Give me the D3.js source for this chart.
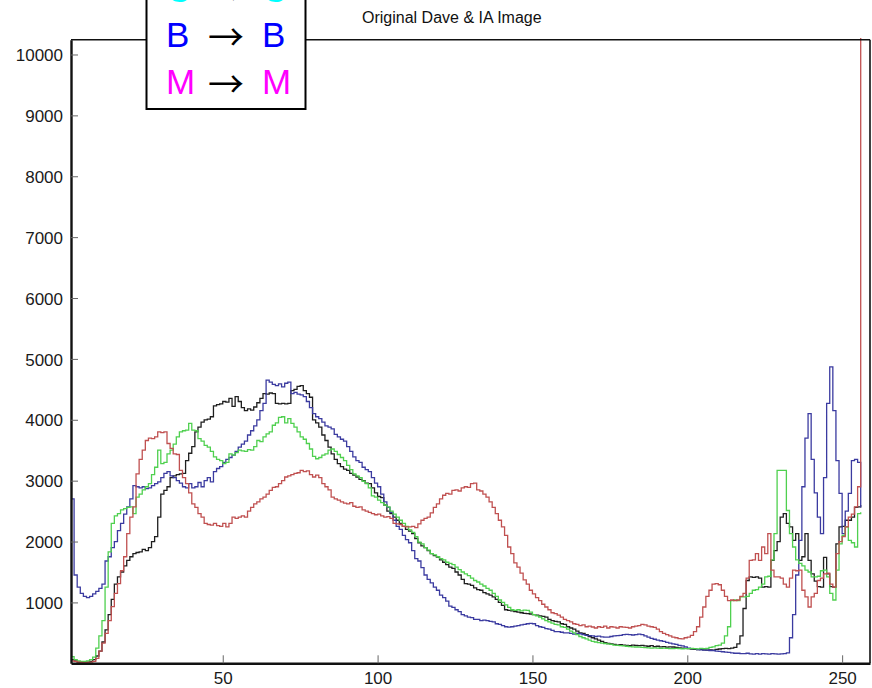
<!DOCTYPE html>
<html>
<head>
<meta charset="utf-8">
<script src="https://cdn.jsdelivr.net/npm/d3@7/dist/d3.min.js"></script>
<style>
  html, body { margin: 0; padding: 0; background: #ffffff; }
  svg { display: block; }
</style>
</head>
<body>
<svg id="chart" width="872" height="688"></svg>
<script>
// Intensity histograms (counts per grey level 1..256)
const levels = d3.range(1, 257);

const blueCounts = [
  2700,1450,1250,1150,1100,1080,1100,1140,1180,1230,
  1300,1680,1750,1900,2000,2180,2300,2450,2570,2700,
  2920,2900,2880,2900,2870,2880,2920,2950,2980,3050,
  3120,3150,3080,3050,3000,2960,2900,2880,2950,2880,
  2900,2970,2900,3000,3050,2980,3150,3200,3230,3300,
  3350,3380,3420,3480,3550,3600,3650,3750,3820,3900,
  4000,4150,4270,4650,4620,4580,4560,4590,4540,4600,
  4620,4430,4450,4420,4410,4380,4300,4200,4100,4050,
  4020,3960,3900,3880,3850,3760,3720,3680,3650,3560,
  3480,3390,3330,3300,3220,3180,3150,3050,2960,2900,
  2780,2650,2560,2480,2350,2250,2200,2100,2030,1980,
  1850,1720,1680,1570,1450,1380,1320,1250,1200,1120,
  1080,1020,940,920,880,850,800,780,760,750,
  720,720,700,710,700,690,680,650,640,620,
  600,595,600,610,620,630,640,650,655,650,
  620,600,590,570,560,540,520,520,510,500,
  500,490,480,490,485,470,460,455,450,440,
  445,435,430,430,440,450,455,460,470,475,
  470,465,470,480,470,450,430,410,395,380,
  370,360,345,330,320,310,295,285,270,250,
  240,240,225,220,215,215,210,210,200,195,
  190,185,180,170,165,165,160,160,165,155,
  150,160,150,160,155,150,160,155,150,155,
  160,170,420,800,1450,2020,2900,3700,4100,3350,
  2800,2400,2130,3050,4270,4870,4150,3330,2790,2130,
  2500,2790,3330,3350,3300,2560
];

const blackCounts = [
  60,40,20,10,10,20,30,60,120,200,
  350,550,800,1050,1300,1420,1500,1600,1690,1750,
  1800,1820,1830,1870,1850,1900,2000,2080,2400,2780,
  2840,2900,3050,3080,3100,3110,3120,3330,3450,3560,
  3800,3880,3960,4000,4010,4050,4230,4250,4260,4300,
  4290,4350,4220,4380,4300,4200,4150,4180,4160,4210,
  4280,4350,4430,4420,4440,4430,4270,4260,4270,4260,
  4270,4480,4500,4550,4560,4480,4430,4370,4000,3950,
  3880,3750,3660,3550,3440,3350,3280,3230,3190,3170,
  3120,3090,3060,3020,3000,2960,2950,2880,2800,2740,
  2720,2600,2500,2460,2400,2350,2300,2250,2200,2170,
  2130,2050,1980,1930,1900,1850,1800,1770,1745,1700,
  1660,1620,1580,1560,1500,1450,1380,1310,1300,1280,
  1240,1210,1200,1160,1140,1120,1090,1050,1000,950,
  880,870,860,850,840,830,820,815,810,800,
  790,780,770,760,720,700,690,680,650,640,
  600,580,560,530,500,490,470,440,420,400,
  380,360,340,325,320,310,300,305,300,295,
  290,300,295,290,295,285,280,290,275,280,
  270,275,265,270,268,260,255,250,245,240,
  235,230,225,230,220,215,220,215,230,235,
  240,245,240,250,260,320,450,900,1360,1420,
  1410,1420,1400,1250,1260,1250,1690,1850,2000,2400,
  2460,2300,2240,2020,2130,1690,1750,2130,1690,1470,
  1350,1260,1250,1740,1470,1260,1250,1960,2240,2250,
  2350,2350,2400,2560,2570,2600
];

const greenCounts = [
  110,60,40,30,30,40,60,100,250,450,
  700,1250,1830,2300,2420,2460,2520,2540,2560,2570,
  2460,2730,2780,2850,2900,2950,3100,3220,3500,3280,
  3300,3440,3500,3600,3720,3800,3820,3830,3940,3830,
  3820,3690,3650,3580,3550,3480,3390,3350,3330,3280,
  3300,3440,3420,3460,3500,3490,3480,3510,3500,3560,
  3660,3640,3720,3770,3800,3910,3950,4040,4050,3950,
  4020,3940,3880,3800,3720,3680,3610,3520,3400,3360,
  3380,3420,3440,3500,3520,3480,3430,3380,3330,3250,
  3180,3110,3080,3050,2990,2950,2880,2750,2730,2680,
  2640,2600,2570,2500,2450,2400,2350,2300,2250,2190,
  2150,2080,1990,1960,1900,1860,1800,1780,1750,1720,
  1700,1660,1640,1620,1580,1540,1500,1470,1440,1400,
  1360,1335,1300,1270,1230,1200,1150,1100,1040,1000,
  960,920,880,870,880,860,875,870,840,800,
  780,760,730,700,680,660,640,630,600,590,
  560,530,500,470,440,420,400,380,360,350,
  340,330,325,320,310,300,295,290,285,280,
  275,270,268,265,262,258,255,250,252,248,
  245,250,245,242,240,245,240,238,242,240,
  245,240,238,245,240,245,260,270,290,300,
  330,450,600,1030,1040,1030,1090,1090,1100,1150,
  1200,1210,1250,1300,1420,1430,1700,2130,3170,3170,
  3170,2510,2130,1910,1700,1640,1600,1530,1500,1420,
  1420,1430,1520,1530,1420,1150,1040,1530,1960,2100,
  2240,2020,1980,1910,2460,2480
];

const redCounts = [
  40,30,20,15,10,15,20,30,80,200,
  330,490,700,930,1150,1310,1520,1750,2130,2400,
  2570,3110,3350,3500,3660,3700,3690,3720,3800,3790,
  3800,3610,3530,3440,3430,3170,3050,2950,2800,2620,
  2560,2460,2400,2300,2280,2270,2300,2260,2250,2300,
  2240,2300,2400,2380,2400,2420,2400,2500,2560,2620,
  2650,2700,2730,2780,2840,2890,2900,2950,3000,3060,
  3080,3100,3120,3130,3170,3150,3160,3100,3060,3090,
  3050,2950,2900,2850,2730,2700,2680,2650,2630,2620,
  2640,2580,2560,2570,2520,2500,2480,2460,2440,2450,
  2420,2400,2410,2380,2300,2290,2280,2250,2240,2240,
  2250,2230,2290,2350,2380,2400,2470,2560,2620,2700,
  2760,2790,2780,2840,2850,2830,2880,2900,2890,2950,
  2960,2850,2830,2780,2730,2650,2560,2460,2350,2240,
  2100,1910,1800,1650,1580,1480,1370,1300,1200,1140,
  1080,1030,970,925,880,830,816,790,760,720,
  700,680,650,640,620,630,600,610,596,580,
  600,590,610,580,600,595,580,600,595,590,
  580,600,610,620,640,630,610,600,590,560,
  520,490,470,450,430,420,405,400,420,430,
  460,520,600,760,925,1100,1200,1300,1310,1290,
  1200,1100,1030,1040,1030,1040,1100,1150,1400,1690,
  1700,1800,1690,1910,1800,2130,1530,1420,1420,1400,
  1300,1250,1400,1530,1520,1530,1200,1090,925,1090,
  1150,1360,1400,1470,1480,1300,1250,1800,2000,2080,
  2240,2400,2450,2570,2900,10270
];

const xTicks = [50, 100, 150, 200, 250];
const yTicks = [1000, 2000, 3000, 4000, 5000, 6000, 7000, 8000, 9000, 10000];
const titleText = "Original Dave & IA Image";
const legendRows = [
  { from: "C", to: "C", color: "#00ffff" },
  { from: "B", to: "B", color: "#0000ff" },
  { from: "M", to: "M", color: "#ff00ff" }
];

const series = [
  { name: "black", values: blackCounts, color: "#1e1e1e" },
  { name: "blue",  values: blueCounts,  color: "#3b3ba0" },
  { name: "green", values: greenCounts, color: "#4fd04f" },
  { name: "red",   values: redCounts,   color: "#c05050" }
];

const svg = d3.select("#chart");
const plot = { left: 71, right: 870, top: 39.7, bottom: 663.3 };

const x = d3.scaleLinear().domain([1, 259]).range([plot.left, plot.right]);
const y = d3.scaleLinear().domain([0, 10243]).range([plot.bottom, plot.top]);

svg.append("rect").attr("width", 872).attr("height", 688).attr("fill", "#fff");

// Histogram step lines
const line = d3.line()
  .x((d, i) => x(levels[i]))
  .y(d => y(d))
  .curve(d3.curveStepAfter);

svg.append("g").selectAll("path")
  .data(series)
  .join("path")
  .attr("d", s => line(s.values))
  .attr("fill", "none")
  .attr("stroke", s => s.color)
  .attr("stroke-width", 1.3)
  .attr("stroke-linejoin", "miter");

// Frame: top and right edges
svg.append("line")
  .attr("x1", plot.left).attr("x2", plot.right)
  .attr("y1", plot.top).attr("y2", plot.top)
  .attr("stroke", "#111").attr("stroke-width", 1.6);
svg.append("line")
  .attr("x1", plot.right).attr("x2", plot.right)
  .attr("y1", plot.top).attr("y2", plot.bottom)
  .attr("stroke", "#111").attr("stroke-width", 1.6);

// Axes with inward ticks
const xAxis = d3.axisBottom(x).tickValues(xTicks).tickFormat(d3.format("d"))
  .tickSizeInner(-8).tickSizeOuter(0).tickPadding(12);
const yAxis = d3.axisLeft(y).tickValues(yTicks).tickFormat(d3.format("d"))
  .tickSizeInner(-7).tickSizeOuter(0).tickPadding(14);

const gx = svg.append("g").attr("transform", `translate(0,${plot.bottom})`).call(xAxis);
const gy = svg.append("g").attr("transform", `translate(${plot.left},0)`).call(yAxis);

[gx, gy].forEach(g => {
  g.select(".domain").attr("stroke", "#111").attr("stroke-width", 2.4);
  g.selectAll(".tick line").attr("stroke", "#666").attr("stroke-width", 1);
  g.selectAll(".tick text")
    .attr("font-family", "Liberation Sans, Arial, sans-serif")
    .attr("font-size", 17)
    .attr("fill", "#1a1a1a");
});
gx.selectAll(".tick text").attr("dy", "0.71em").attr("y", 8.5);
gy.selectAll(".tick text").attr("x", -8).attr("dy", "0.36em");

// Title
svg.append("text")
  .attr("x", 362).attr("y", 23)
  .attr("font-family", "Liberation Sans, Arial, sans-serif")
  .attr("font-size", 16)
  .attr("fill", "#111")
  .text(titleText);

// Legend box
const lg = svg.append("g");
lg.append("rect")
  .attr("x", 146.5).attr("y", -20)
  .attr("width", 159).attr("height", 129)
  .attr("fill", "#fff").attr("stroke", "#000").attr("stroke-width", 2);

const rowBase = [1.5, 47, 93.5];
legendRows.forEach((r, i) => {
  const base = rowBase[i];
  lg.append("text")
    .attr("x", 166).attr("y", base)
    .attr("font-family", "Liberation Sans, Arial, sans-serif")
    .attr("font-size", 35).attr("fill", r.color)
    .text(r.from);
  lg.append("text")
    .attr("x", 226).attr("y", base + 4)
    .attr("text-anchor", "middle")
    .attr("font-family", "Noto Sans CJK JP, DejaVu Sans, sans-serif")
    .attr("font-size", 36).attr("fill", "#000")
    .text("\u2192");
  lg.append("text")
    .attr("x", 262).attr("y", base)
    .attr("font-family", "Liberation Sans, Arial, sans-serif")
    .attr("font-size", 35).attr("fill", r.color)
    .text(r.to);
});
</script>
</body>
</html>
